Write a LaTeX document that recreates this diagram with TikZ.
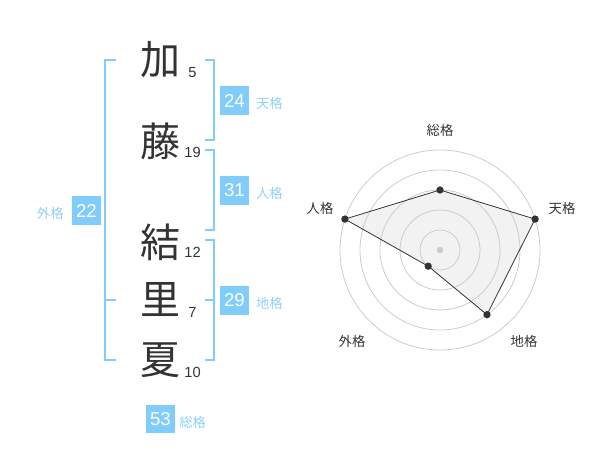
\documentclass[tikz,border=0pt]{standalone}
\usepackage{fontspec}
\setmainfont{Liberation Sans}
\newfontfamily\cjk{Noto Sans CJK JP}
\definecolor{sky}{HTML}{80CCFA}
\definecolor{skytxt}{HTML}{8FD0F7}
\definecolor{ink}{HTML}{333333}
\definecolor{ring}{HTML}{CCCCCC}
\definecolor{polyfill}{HTML}{F2F2F2}
\tikzset{
  kanji/.style={font=\cjk\fontsize{30pt}{30pt}\selectfont, text=ink, inner sep=0pt},
  stroke/.style={font=\fontsize{11pt}{11pt}\selectfont, text=ink, inner sep=0pt},
  numbox/.style={fill=sky, text=white, minimum width=21.5pt, minimum height=21.5pt, inner sep=0pt, font=\fontsize{14pt}{14pt}\selectfont},
  kaku/.style={font=\cjk\fontsize{10pt}{10pt}\selectfont, text=skytxt, inner sep=0pt},
  bracket/.style={draw=sky, line width=1.5pt},
  axislabel/.style={font=\cjk\fontsize{10pt}{10pt}\selectfont, text=ink, inner sep=0pt},
  datadot/.style={circle, fill=ink, minimum size=5.5pt, inner sep=0pt},
  ringline/.style={draw=ring, line width=0.6pt},
}
\begin{document}
\begin{tikzpicture}[x=0.75pt,y=-0.75pt]
\useasboundingbox (0,0) rectangle (600,470);
% name characters
\node[kanji] (k1) at (160,60) {加};
\node[kanji] (k2) at (160,141) {藤};
\node[kanji] (k3) at (160,242) {結};
\node[kanji] (k4) at (160,300) {里};
\node[kanji] (k5) at (160,360) {夏};
\node[stroke] (s1) at (192.5,72.5) {5};
\node[stroke] (s2) at (192.5,152.5) {19};
\node[stroke] (s3) at (192.5,252.5) {12};
\node[stroke] (s4) at (192.5,312.5) {7};
\node[stroke] (s5) at (192.5,372.5) {10};
% brackets
\draw[bracket] (116,60) -- (105,60) -- (105,360) -- (116,360);
\draw[bracket] (105,300) -- (116,300);
\draw[bracket] (205,60) -- (214,60) -- (214,140) -- (205,140);
\draw[bracket] (205,150) -- (214,150) -- (214,230) -- (205,230);
\draw[bracket] (205,240) -- (214,240) -- (214,360) -- (205,360);
\draw[bracket] (205,300) -- (214,300);
% boxes
\node[numbox] (ten) at (234.5,100.5) {24};
\node[kaku, anchor=west] (tenl) at ([xshift=5pt,yshift=-2.5pt]ten.east) {天格};
\node[numbox] (jin) at (234.5,190.5) {31};
\node[kaku, anchor=west] (jinl) at ([xshift=5pt,yshift=-2.5pt]jin.east) {人格};
\node[numbox] (chi) at (234.5,300.5) {29};
\node[kaku, anchor=west] (chil) at ([xshift=5pt,yshift=-2.5pt]chi.east) {地格};
\node[numbox] (gai) at (86.5,210.5) {22};
\node[kaku, anchor=east] (gail) at ([xshift=-6pt,yshift=-2.5pt]gai.west) {外格};
\node[numbox] (sou) at (160.5,419) {53};
\node[kaku, anchor=west] (soul) at ([xshift=3pt,yshift=-2.5pt]sou.east) {総格};
% radar chart
\coordinate (pS) at (440,190);
\coordinate (pT) at (535.1,219.1);
\coordinate (pC) at (487.0,314.7);
\coordinate (pG) at (428.2,266.2);
\coordinate (pJ) at (344.9,219.1);
\fill[polyfill] (pS) -- (pT) -- (pC) -- (pG) -- (pJ) -- cycle;
\foreach \r in {20,40,60,80,100} \draw[ringline] (440,250) circle[radius=\r];
\node[circle, fill=ring, minimum size=5pt, inner sep=0pt] (ctr) at (440,250) {};
\node[datadot] (dS) at (pS) {};
\node[datadot] (dT) at (pT) {};
\node[datadot] (dC) at (pC) {};
\node[datadot] (dG) at (pG) {};
\node[datadot] (dJ) at (pJ) {};
\draw[ink, line width=0.6pt] (dS.center) -- (dT.center) -- (dC.center) -- (dG.center) -- (dJ.center) -- cycle;
\node[axislabel] (lS) at (440,130) {総格};
\node[axislabel] (lT) at (562,208) {天格};
\node[axislabel] (lC) at (524,341) {地格};
\node[axislabel] (lG) at (352,341) {外格};
\node[axislabel] (lJ) at (320,208) {人格};
\end{tikzpicture}
\end{document}
